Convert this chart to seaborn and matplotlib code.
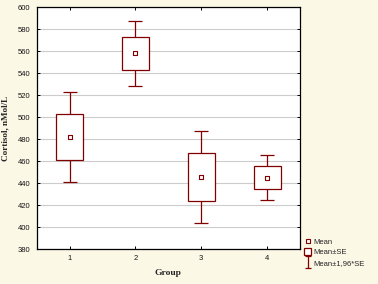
import matplotlib
matplotlib.use("Agg")
import matplotlib.pyplot as plt
from matplotlib.lines import Line2D
from matplotlib.patches import Patch
from matplotlib.path import Path
import seaborn as sns
import pandas as pd
import numpy as np

groups = [1, 2, 3, 4]
means = [482.0, 558.0, 445.5, 445.0]
se = [21.0, 15.0, 21.5, 10.5]
yticks = [380, 400, 420, 440, 460, 480, 500, 520, 540, 560, 580, 600]

RED = "#800000"
BG = "#FCF8E6"

sns.set_theme(style="white")
plt.rcParams["font.family"] = ["Liberation Sans", "DejaVu Sans"]

df = pd.DataFrame({"Group": groups, "Mean": means, "SE": se})
df["lo"] = df["Mean"] - df["SE"]
df["ci"] = 1.96 * df["SE"]

fig = plt.figure(figsize=(3.78, 2.84), dpi=100, facecolor=BG)
ax = fig.add_axes([36.7 / 378, 1 - 249 / 284, (300 - 36.7) / 378, (249 - 7) / 284])
ax.set_facecolor("white")

# whiskers (Mean ± 1.96*SE)
ax.errorbar(df["Group"], df["Mean"], yerr=df["ci"], fmt="none", ecolor=RED,
            elinewidth=0.9, capsize=4.8, capthick=0.9, zorder=2)
# SE boxes
ax.bar(df["Group"], 2 * df["SE"], bottom=df["lo"], width=0.41, facecolor="white",
       edgecolor=RED, linewidth=0.9, zorder=3)
# means
sns.scatterplot(data=df, x="Group", y="Mean", marker="s", s=9, facecolor="white",
                edgecolor=RED, linewidth=0.8, zorder=4, ax=ax, legend=False)

ax.set_xlim(0.5, 4.5)
ax.set_ylim(380, 600)
ax.set_xticks(groups)
ax.set_xticklabels([str(g) for g in groups])
ax.set_yticks(yticks)
ax.yaxis.grid(True, color="#CCCCCC", linewidth=0.8, zorder=0)
ax.xaxis.grid(False)
ax.set_axisbelow(True)
for s in ax.spines.values():
    s.set_color("black")
    s.set_linewidth(0.9)
ax.tick_params(axis="both", direction="in", length=2.5, width=0.7, color="black",
               labelsize=5.5, labelcolor="#151515", top=True, right=True,
               bottom=True, left=True)
ax.tick_params(axis="y", pad=4.5)
ax.tick_params(axis="x", pad=4.3)

ax.set_xlabel("Group", fontfamily="Liberation Serif", fontweight="bold",
              fontsize=6.8, labelpad=5)
ax.set_ylabel("Cortisol, nMol/L", fontfamily="Liberation Serif", fontweight="bold",
              fontsize=6.6, labelpad=6)

# legend
ipath = Path([(-0.5, -1), (0.5, -1), (0, -1), (0, 1), (-0.5, 1), (0.5, 1)],
             [Path.MOVETO, Path.LINETO, Path.MOVETO, Path.LINETO, Path.MOVETO, Path.LINETO])
handles = [
    Line2D([], [], marker="s", linestyle="none", markersize=3, markerfacecolor="white",
           markeredgecolor=RED, markeredgewidth=0.8),
    Patch(facecolor="white", edgecolor=RED, linewidth=0.9),
    Line2D([], [], marker=ipath, linestyle="none", markersize=8, markerfacecolor="none",
           markeredgecolor=RED, markeredgewidth=0.9),
]
leg = fig.legend(handles, ["Mean", "Mean±SE", "Mean±1,96*SE"], loc="lower left",
                 bbox_to_anchor=(299 / 378, 1 - 272 / 284), frameon=False,
                 fontsize=5.5, handlelength=0.9, handleheight=0.9, handletextpad=0.25,
                 labelspacing=0.35, borderpad=0.2)

fig.savefig("out.png", dpi=100, facecolor=BG)
